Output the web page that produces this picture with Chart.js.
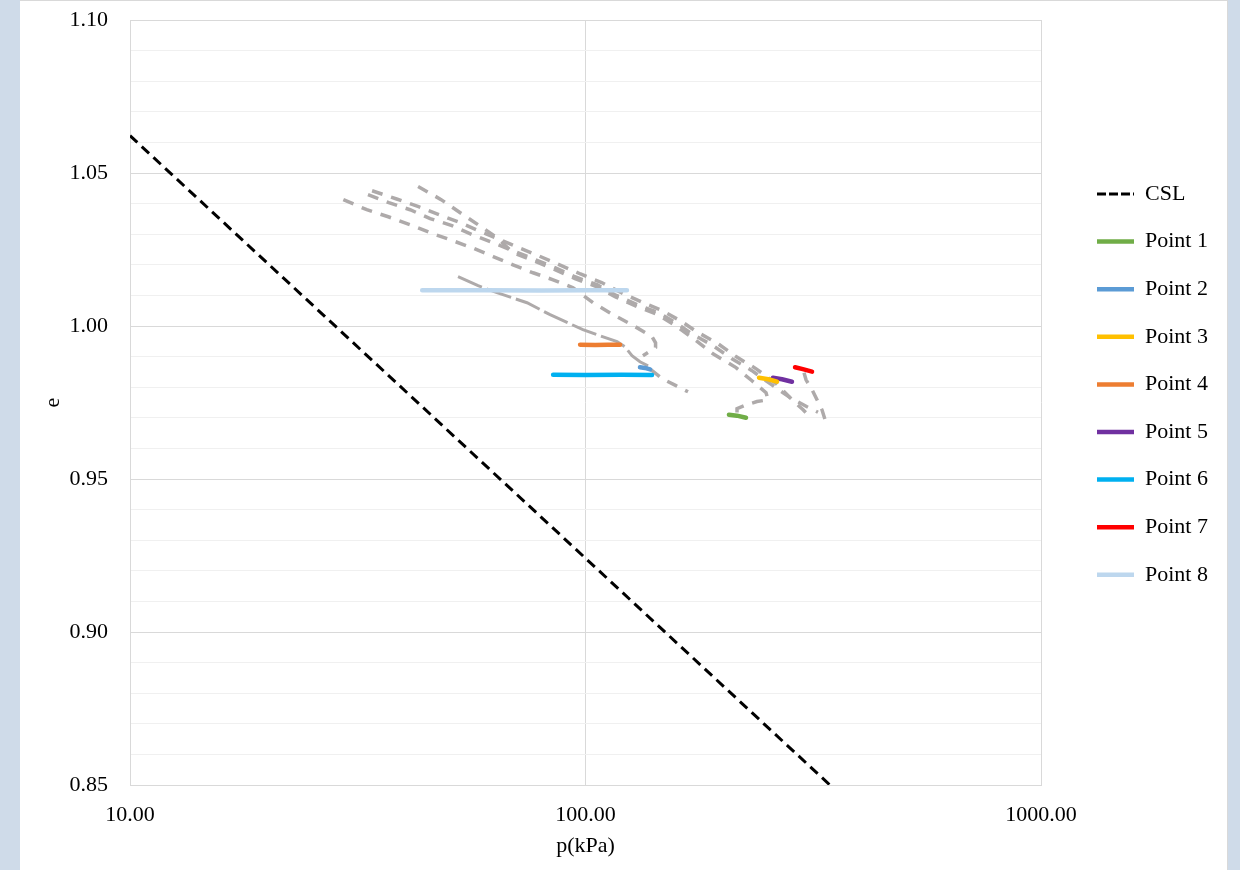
<!DOCTYPE html>
<html>
<head>
<meta charset="utf-8">
<title>e - p(kPa)</title>
<script src="https://cdn.jsdelivr.net/npm/chart.js@4.4.1/dist/chart.umd.min.js"></script>
<style>
  html, body { margin: 0; padding: 0; background: #cfdbe9; width: 1240px; height: 870px; overflow: hidden; }
  #panel { position: absolute; left: 20px; top: 0; width: 1208px; height: 870px; box-sizing: border-box;
           background: #ffffff; border-top: 1px solid #d9d9d9; border-right: 1px solid #d9d9d9; }
  #chart { position: absolute; left: 20px; top: 0; }
</style>
</head>
<body>
<div id="panel"></div>
<canvas id="chart" width="1208" height="870"></canvas>
<script>
// ---- axis ticks ----
const P_TICKS = [10, 100, 1000];
const E_LABELS = [0.85, 0.90, 0.95, 1.00, 1.05, 1.10];

// ---- critical state line ----
const CSL_P = [10, 344];
const CSL_E = [1.0622, 0.85];

// ---- marked points ----
const POINT1_P = [206.5, 215.0, 225.1];
const POINT1_E = [0.9710, 0.9707, 0.9700];
const POINT2_P = [131.7, 135.0, 138.6];
const POINT2_E = [0.9865, 0.9863, 0.9858];
const POINT3_P = [240.4, 252.0, 263.3];
const POINT3_E = [0.9831, 0.9826, 0.9818];
const POINT4_P = [97.3, 105.0, 112.0, 119.1];
const POINT4_E = [0.9939, 0.9938, 0.9939, 0.9939];
const POINT5_P = [257.9, 270.0, 284.0];
const POINT5_E = [0.9831, 0.9826, 0.9818];
const POINT6_P = [84.9, 100.0, 120.0, 140.0];
const POINT6_E = [0.9841, 0.9840, 0.9841, 0.9840];
const POINT7_P = [288.4, 300.0, 314.3];
const POINT7_E = [0.9865, 0.9859, 0.9851];
const POINT8_P = [43.8, 60.0, 80.0, 100.0, 123.3];
const POINT8_E = [1.0117, 1.0117, 1.0116, 1.0117, 1.0117];

// ---- test paths (grey, dashed) ----
const PATH_A_P = [29.4, 33.1, 36.9, 41.2, 45.6, 50.4, 56.3, 62.7, 69.3, 76.7, 84.9, 93.9, 103.9, 114.9, 126.5, 140.0, 142.5, 142.5, 133.7];
const PATH_A_E = [1.0413, 1.0380, 1.0357, 1.0331, 1.0305, 1.0282, 1.0256, 1.0227, 1.0200, 1.0174, 1.0151, 1.0125, 1.0076, 1.0037, 1.0004, 0.9965, 0.9945, 0.9930, 0.9903];

const PATH_B_P = [33.3, 37.0, 41.2, 45.6, 50.9, 56.3, 62.7, 69.3, 76.7, 85.7, 94.8, 106.0, 116.1, 129.8, 144.3, 158.8, 172.2, 190.5, 209.7, 232.0, 258.0, 281.2, 306.4, 323.9];
const PATH_B_E = [1.0429, 1.0403, 1.0380, 1.0351, 1.0328, 1.0299, 1.0272, 1.0246, 1.0220, 1.0191, 1.0161, 1.0135, 1.0102, 1.0070, 1.0044, 1.0008, 0.9972, 0.9936, 0.9893, 0.9854, 0.9805, 0.9766, 0.9736, 0.9718];

const PATH_C_P = [34.0, 38.5, 43.0, 47.5, 53.0, 58.5, 64.5, 71.5, 79.0, 88.0, 97.5, 108.5, 119.0, 133.0, 147.5, 162.0, 176.0, 195.0, 214.0, 237.0, 262.0, 285.5, 300.0, 312.6];
const PATH_C_E = [1.0442, 1.0415, 1.0390, 1.0365, 1.0338, 1.0310, 1.0284, 1.0256, 1.0229, 1.0199, 1.0170, 1.0142, 1.0111, 1.0078, 1.0050, 1.0016, 0.9980, 0.9943, 0.9900, 0.9860, 0.9812, 0.9756, 0.9727, 0.9700];

const PATH_D_P = [42.9, 48.2, 53.0, 58.1, 63.9, 69.3, 76.7, 85.7, 94.8, 106.0, 116.1, 129.8, 144.3, 158.8, 174.0, 190.5, 214.0, 232.0, 249.1, 251.6, 237.9, 226.2, 215.1, 215.1];
const PATH_D_E = [1.0456, 1.0413, 1.0371, 1.0331, 1.0289, 1.0240, 1.0214, 1.0184, 1.0155, 1.0128, 1.0096, 1.0063, 1.0037, 0.9998, 0.9955, 0.9909, 0.9864, 0.9821, 0.9782, 0.9759, 0.9753, 0.9743, 0.9730, 0.9713];

const PATH_E_P = [52.5, 58.1, 63.9, 74.4, 83.6, 98.7, 107.6, 117.3, 122.1, 126.5, 131.7, 137.2];
const PATH_E_E = [1.0161, 1.0132, 1.0109, 1.0076, 1.0037, 0.9988, 0.9968, 0.9949, 0.9932, 0.9903, 0.9883, 0.9870];

const PATH_F_P = [139.3, 147.2, 158.0, 167.9];
const PATH_F_E = [0.9857, 0.9828, 0.9805, 0.9785];

const PATH_G_P = [301.8, 304.9, 314.3, 322.3, 330.5, 335.6];
const PATH_G_E = [0.9847, 0.9824, 0.9792, 0.9759, 0.9726, 0.9694];

// ---- styling ----
const FONT = "'Liberation Serif', 'Times New Roman', serif";
const GREY = '#aeaaaa';
const GREY_DASH = [11, 9];
const LEGEND_NAMES = ['CSL', 'Point 1', 'Point 2', 'Point 3', 'Point 4', 'Point 5', 'Point 6', 'Point 7', 'Point 8'];
const LEGEND_X = 1077;   // left of first legend swatch, canvas px
const LEGEND_Y = 183;    // top of first legend row, canvas px

function pairs(p, e) { return p.map((v, i) => ({ x: v, y: e[i] })); }

function coloured(label, p, e, color) {
  return { label, data: pairs(p, e), borderColor: color, backgroundColor: color,
           borderWidth: 4.5, borderCapStyle: 'round', borderJoinStyle: 'round',
           showLine: true, pointRadius: 0, pointHoverRadius: 0, pointStyle: 'line', fill: false };
}
function greyPath(label, p, e, dash, width) {
  return { label, data: pairs(p, e), borderColor: GREY, backgroundColor: GREY,
           borderWidth: width || 3.5, borderDash: dash || GREY_DASH, borderCapStyle: 'butt',
           showLine: true, pointRadius: 0, pointHoverRadius: 0, pointStyle: 'line', fill: false };
}

const datasets = [
  { label: 'CSL', data: pairs(CSL_P, CSL_E), borderColor: '#000000', backgroundColor: '#000000',
    borderWidth: 3, borderDash: [10, 6], showLine: true, pointRadius: 0, pointHoverRadius: 0,
    pointStyle: 'line', fill: false },
  coloured('Point 1', POINT1_P, POINT1_E, '#70ad47'),
  coloured('Point 2', POINT2_P, POINT2_E, '#5b9bd5'),
  coloured('Point 3', POINT3_P, POINT3_E, '#ffc000'),
  coloured('Point 4', POINT4_P, POINT4_E, '#ed7d31'),
  coloured('Point 5', POINT5_P, POINT5_E, '#7030a0'),
  coloured('Point 6', POINT6_P, POINT6_E, '#00b0f0'),
  coloured('Point 7', POINT7_P, POINT7_E, '#ff0000'),
  coloured('Point 8', POINT8_P, POINT8_E, '#bdd7ee'),
  greyPath('Path A', PATH_A_P, PATH_A_E),
  greyPath('Path B', PATH_B_P, PATH_B_E),
  greyPath('Path C', PATH_C_P, PATH_C_E),
  greyPath('Path D', PATH_D_P, PATH_D_E),
  greyPath('Path E', PATH_E_P, PATH_E_E, [26, 5], 3),
  greyPath('Path F', PATH_F_P, PATH_F_E),
  greyPath('Path G', PATH_G_P, PATH_G_E)
];

// fixed legend width on the right and explicit legend placement
const legendPlacement = {
  id: 'legendPlacement',
  beforeLayout(chart) {
    const lg = chart.legend;
    if (lg && !lg.__fixedWidth) {
      const baseFit = lg.fit;
      lg.fit = function () { baseFit.call(this); if (!this.isHorizontal()) this.width = 187; };
      lg.__fixedWidth = true;
    }
  },
  afterLayout(chart) {
    const lg = chart.legend;
    if (!lg) return;
    const pad = lg.options.labels.padding;
    const w = lg.width;
    lg.left = LEGEND_X - pad;
    lg.right = lg.left + w;
    lg.top = LEGEND_Y - pad;
  }
};

const isLabelled = v => E_LABELS.some(t => Math.abs(t - v) < 1e-6);

new Chart(document.getElementById('chart'), {
  type: 'scatter',
  data: { datasets },
  plugins: [legendPlacement],
  options: {
    responsive: false,
    animation: false,
    layout: { padding: { top: 20, right: 0, bottom: 0, left: 0 } },
    elements: { line: { tension: 0 } },
    scales: {
      x: {
        type: 'logarithmic',
        min: 10, max: 1000,
        afterBuildTicks: s => { s.ticks = P_TICKS.map(v => ({ value: v })); },
        afterFit: s => { s.height = 85; },
        ticks: { autoSkip: false, maxRotation: 0, padding: 17, color: '#000000',
                 font: { family: FONT, size: 22 },
                 callback: v => Number(v).toFixed(2) },
        grid: { color: '#d9d9d9', lineWidth: 1, drawTicks: false },
        border: { color: '#d9d9d9', width: 1 },
        title: { display: true, text: 'p(kPa)', color: '#000000',
                 font: { family: FONT, size: 22 }, padding: { top: 0, bottom: 11 } }
      },
      y: {
        type: 'linear',
        min: 0.85, max: 1.10,
        afterFit: s => { s.width = 110; s.paddingTop = 0; s.paddingBottom = 0; },
        ticks: { stepSize: 0.01, autoSkip: false, padding: 22, color: '#000000',
                 font: { family: FONT, size: 22 },
                 callback: v => (isLabelled(v) ? Number(v).toFixed(2) : '') },
        grid: { drawTicks: false, lineWidth: 1,
                color: c => (c.tick && isLabelled(c.tick.value) ? '#d9d9d9' : '#f0f0f0') },
        border: { color: '#d9d9d9', width: 1 },
        title: { display: true, text: 'e', color: '#000000',
                 font: { family: FONT, size: 22 }, padding: { top: 20, bottom: 0 } }
      }
    },
    plugins: {
      tooltip: { enabled: false },
      legend: {
        position: 'right',
        align: 'start',
        labels: {
          usePointStyle: true,
          pointStyleWidth: 37,
          padding: 25.6,
          color: '#000000',
          font: { family: FONT, size: 22 },
          filter: item => LEGEND_NAMES.includes(item.text),
          generateLabels: chart => {
            const items = Chart.defaults.plugins.legend.labels.generateLabels(chart);
            items.forEach(it => { if (it.text === 'CSL') it.lineDash = [9, 3]; });
            return items;
          }
        }
      }
    }
  }
});
</script>
</body>
</html>
